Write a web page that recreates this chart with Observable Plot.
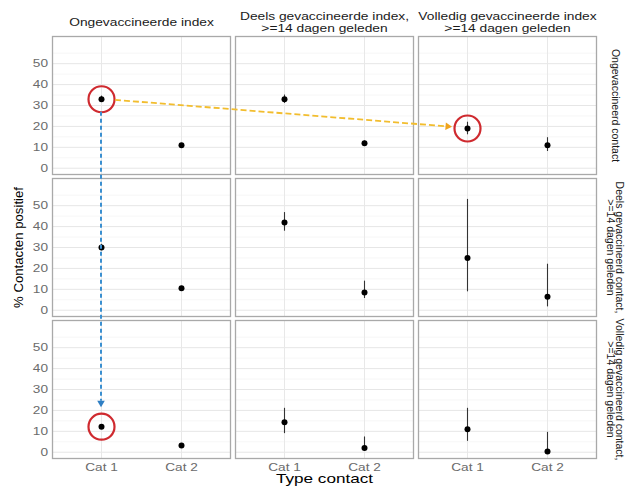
<!DOCTYPE html>
<html><head><meta charset="utf-8">
<script src="https://cdn.jsdelivr.net/npm/d3@7"></script>
<script src="https://cdn.jsdelivr.net/npm/@observablehq/plot@0.6"></script>
<style>body{margin:0;background:#fff}</style>
</head><body><div id="chart"></div>
<script>
// ---- data ----
const cats = ["Cat 1", "Cat 2"];
const indexGroups = [
  "Ongevaccineerde index",
  "Deels gevaccineerde index,\n>=14 dagen geleden",
  "Volledig gevaccineerde index\n>=14 dagen geleden"
];
const contactGroups = [
  "Ongevaccineerd contact",
  "Deels gevaccineerd contact,\n>=14 dagen geleden",
  "Volledig gevaccineerd contact,\n>=14 dagen geleden"
];
const yTicks = [0, 10, 20, 30, 40, 50];
const yMinorTicks = [5, 15, 25, 35, 45, 55];
const yTitle = "% Contacten positief";
const xTitle = "Type contact";

// estimates per contact row: [index col][cat]
const estUnvacContact   = [[33, 11], [33, 12], [19, 11]];
const estPartContact    = [[30, 10.5], [42, 8.5], [25, 6.5]];
const estFullContact    = [[12.2, 3.2], [14.3, 2], [11, 0.3]];
const lowUnvacContact   = [[31.5, 10.3], [31, 11], [16, 8]];
const lowPartContact    = [[28.5, 9.6], [37.8, 5.6], [8.8, 1.6]];
const lowFullContact    = [[11.3, 2.4], [8.9, 0.5], [5.2, 0]];
const highUnvacContact  = [[34.5, 11.8], [35, 13], [22, 14.6]];
const highPartContact   = [[31.5, 11.4], [46.7, 13.9], [53, 22]];
const highFullContact   = [[13.2, 4], [21, 7.3], [21, 9.5]];

// highlighted points: [contact row, index col, cat]
const circled = [[0, 0, 0], [0, 2, 0], [2, 0, 0]];

// ---- build table ----
const est = [estUnvacContact, estPartContact, estFullContact];
const low = [lowUnvacContact, lowPartContact, lowFullContact];
const high = [highUnvacContact, highPartContact, highFullContact];
const data = [];
contactGroups.forEach((row, ri) => indexGroups.forEach((col, ci) => cats.forEach((cat, k) => {
  data.push({row, col, cat, ri, ci, k, est: est[ri][ci][k], lo: low[ri][ci][k], hi: high[ri][ci][k]});
})));
const find = ([ri, ci, k]) => data.find(d => d.ri === ri && d.ci === ci && d.k === k);
const circledData = circled.map(find);

const font = "'Liberation Sans', Arial, Helvetica, sans-serif";

const plot = Plot.plot({
  width: 626, height: 486,
  marginTop: 36, marginLeft: 52, marginRight: 30, marginBottom: 28,
  style: {fontFamily: font, background: "#fff", color: "#1a1a1a"},
  fx: {domain: indexGroups, paddingInner: 0.028, paddingOuter: 0, axis: null, label: null},
  fy: {domain: contactGroups, paddingInner: 0.029, paddingOuter: 0, axis: null, label: null},
  x: {type: "point", domain: cats, padding: 0.6, label: null},
  y: {domain: [-3, 63], label: null},
  marks: [
    Plot.gridY({ticks: yMinorTicks, stroke: "#f3f3f3", strokeOpacity: 1, strokeWidth: 0.7}),
    Plot.gridY({ticks: yTicks, stroke: "#e6e6e6", strokeOpacity: 1}),
    Plot.gridX({ticks: cats, stroke: "#e8e8e8", strokeOpacity: 1}),
    Plot.frame({stroke: "#a9a9a9", strokeWidth: 1.3}),
    Plot.ruleX(data, {x: "cat", y1: "lo", y2: "hi", fx: "col", fy: "row", stroke: "#333", strokeWidth: 1.1}),
    Plot.dot(data, {x: "cat", y: "est", fx: "col", fy: "row", r: 3, fill: "#000", stroke: "none"}),
    Plot.dot(circledData, {x: "cat", y: "est", fx: "col", fy: "row", r: 13, fill: "none", stroke: "#cf2a2f", strokeWidth: 2.2}),
    Plot.axisY({ticks: yTicks, tickSize: 0, tickPadding: 4.5, fontSize: 10.5, color: "#6b6b6b", label: null}),
    Plot.axisX({ticks: cats, tickSize: 0, tickPadding: 5, fontSize: 10.5, color: "#6b6b6b", label: null}),
    // column strips
    Plot.text(indexGroups, {fx: d => d, fy: () => contactGroups[0], text: d => d, frameAnchor: "top", dy: -14.5,
      lineAnchor: "middle", lineHeight: 1.16, fontSize: 10.6, fill: "#1a1a1a"}),
    // row strips
    Plot.text(contactGroups, {fy: d => d, fx: () => indexGroups[2], text: d => d, frameAnchor: "right", dx: 18,
      textAnchor: "middle", rotate: 90, lineAnchor: "middle", lineHeight: 0.85, fontSize: 10.5, fill: "#1a1a1a"}),
    // axis titles
    Plot.text([xTitle], {fx: () => indexGroups[1], fy: () => contactGroups[2], text: d => d, frameAnchor: "bottom", dy: 20.5,
      lineAnchor: "middle", fontSize: 13.2, fill: "#000"}),
    Plot.text([yTitle], {fx: () => indexGroups[0], fy: () => contactGroups[1], text: d => d, frameAnchor: "left", dx: -34,
      textAnchor: "middle", rotate: -90, lineAnchor: "middle", fontSize: 13.2, fill: "#000"})
  ]
});
document.getElementById("chart").appendChild(plot);

// ---- horizontal stretch of horizontal texts (reference is widened) ----
const svg = d3.select(plot.tagName.toLowerCase() === "svg" ? plot : plot.querySelector("svg"));
svg.selectAll("text").each(function() {
  const t = this.getAttribute("transform") || "";
  if (t.includes("rotate")) return;
  if (t) this.setAttribute("transform", t + " scale(1.3,1)");
  else {
    const x = +this.getAttribute("x") || 0, y = +this.getAttribute("y") || 0;
    this.setAttribute("transform", `translate(${x},${y}) scale(1.3,1) translate(${-x},${-y})`);
  }
});

// ---- annotation arrows, positioned through the chart's scales ----
const sx = plot.scale("x"), sy = plot.scale("y"), sfx = plot.scale("fx"), sfy = plot.scale("fy");
const x0 = Math.min(...sx.range), y0 = Math.min(...sy.range);
function px(d) {
  return [sfx.apply(d.col) + sx.apply(d.cat) - x0, sfy.apply(d.row) + sy.apply(d.est) - y0];
}
const ann = svg.append("g");
function arrow(from, to, r0, r1, color, headColor, dash, w) {
  const p0 = px(from), p1 = px(to);
  const dx = p1[0] - p0[0], dy = p1[1] - p0[1], L = Math.hypot(dx, dy), ux = dx / L, uy = dy / L;
  const a = [p0[0] + ux * r0, p0[1] + uy * r0];
  const b = [p1[0] - ux * r1, p1[1] - uy * r1];
  const head = 6.5, hw = 3.8;
  const base = [b[0] - ux * head, b[1] - uy * head];
  ann.append("line").attr("x1", a[0]).attr("y1", a[1]).attr("x2", base[0]).attr("y2", base[1])
    .attr("stroke", color).attr("stroke-width", w).attr("stroke-dasharray", dash);
  ann.append("path")
    .attr("d", `M${b[0]},${b[1]}L${base[0] - uy * hw},${base[1] + ux * hw}L${base[0] + uy * hw},${base[1] - ux * hw}Z`)
    .attr("fill", headColor);
}
arrow(circledData[0], circledData[1], 14, 15, "#f2bd2e", "#f0a41e", "6,3", 1.8);
arrow(circledData[0], circledData[2], 13, 19, "#3a8fd0", "#2f7fc4", "4,3", 2);
</script>
</body></html>
